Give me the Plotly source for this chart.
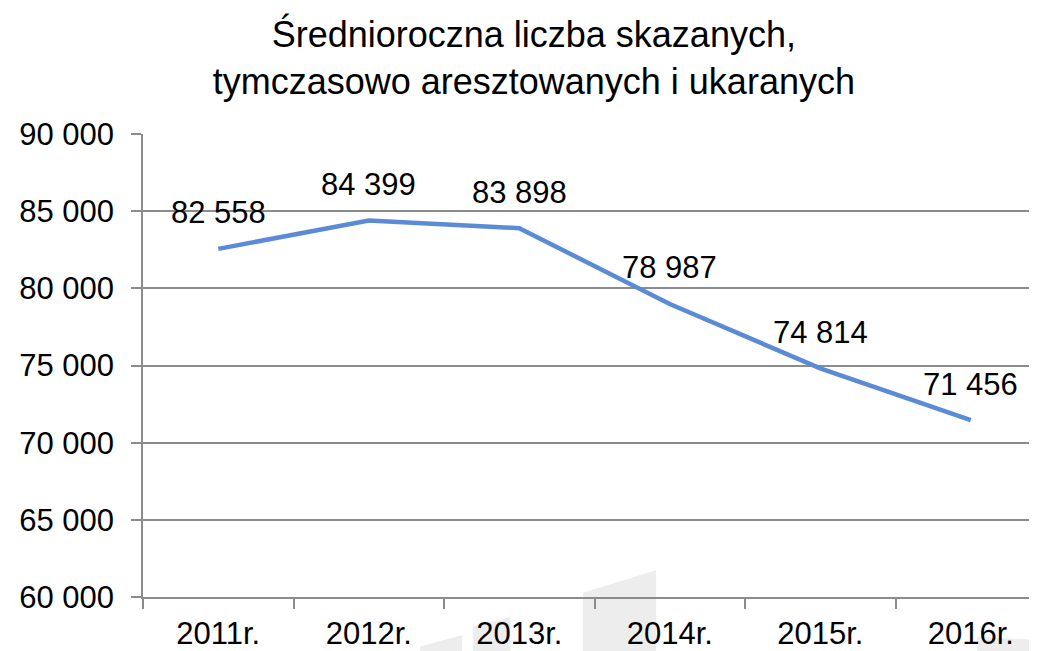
import plotly.graph_objects as go

years = ["2011r.", "2012r.", "2013r.", "2014r.", "2015r.", "2016r."]
values = [82558, 84399, 83898, 78987, 74814, 71456]
y_ticks = [60000, 65000, 70000, 75000, 80000, 85000, 90000]
title_lines = ["Średnioroczna liczba skazanych,", "tymczasowo aresztowanych i ukaranych"]

FONT = "Liberation Sans, Arial, sans-serif"
GRID = "#8c8c8c"
FS = 31

fig = go.Figure()
fig.add_trace(go.Scatter(
    x=years, y=values, mode="lines",
    line=dict(color="#5B8BD6", width=4.5),
    hoverinfo="skip", showlegend=False,
))

for xv, yv in zip(years, values):
    fig.add_annotation(
        x=xv, y=yv, text=f"{yv:,}".replace(",", " "),
        showarrow=False, yshift=36, yanchor="middle", xanchor="center",
        font=dict(family=FONT, size=FS, color="#000000"),
    )

# faint watermark in background
wm = "#ededed"
def poly(pts):
    return dict(type="path", xref="paper", yref="paper", layer="below",
                line_width=0, fillcolor=wm,
                path="M " + " L ".join(f"{x} {y}" for x, y in pts) + " Z")

shapes = [
    poly([(0.492, 0.009), (0.574, 0.058), (0.574, -0.12), (0.492, -0.12)]),
    poly([(0.369, -0.064), (0.411, -0.043), (0.411, -0.12), (0.369, -0.12)]),
    poly([(0.310, -0.107), (0.357, -0.082), (0.357, -0.12), (0.310, -0.12)]),
    poly([(0.933, -0.086), (0.992, -0.092), (0.992, -0.12), (0.933, -0.12)]),
]

fig.update_layout(
    width=1029, height=643,
    margin=dict(l=135, r=0, t=126, b=51),
    paper_bgcolor="white", plot_bgcolor="white",
    separators=", ",
    font=dict(family=FONT, size=FS, color="#000000"),
    title=dict(
        text="<br>".join(title_lines),
        x=0.511, xref="container", xanchor="center",
        y=1 - 39 / 643, yref="container", yanchor="middle",
        font=dict(family=FONT, size=36, color="#000000"),
    ),
    shapes=shapes,
)

fig.update_yaxes(
    range=[60000, 90000], tickvals=y_ticks, tickformat=",d",
    showgrid=True, gridcolor=GRID, gridwidth=1.5,
    showline=True, linecolor=GRID, linewidth=1.5,
    ticks="outside", ticklen=10, tickcolor=GRID, tickwidth=1.5,
    ticklabelstandoff=11, zeroline=False,
    tickfont=dict(family=FONT, size=FS, color="#000000"),
)
fig.update_xaxes(
    type="category", categoryorder="array", categoryarray=years,
    range=[-0.5, 5.44],
    showgrid=False, showline=True, linecolor=GRID, linewidth=1.5,
    ticks="outside", ticklen=10, tickcolor=GRID, tickwidth=1.5,
    tickson="boundaries", ticklabelstandoff=8,
    tickfont=dict(family=FONT, size=FS, color="#000000"),
)

fig.write_html("out.html")
